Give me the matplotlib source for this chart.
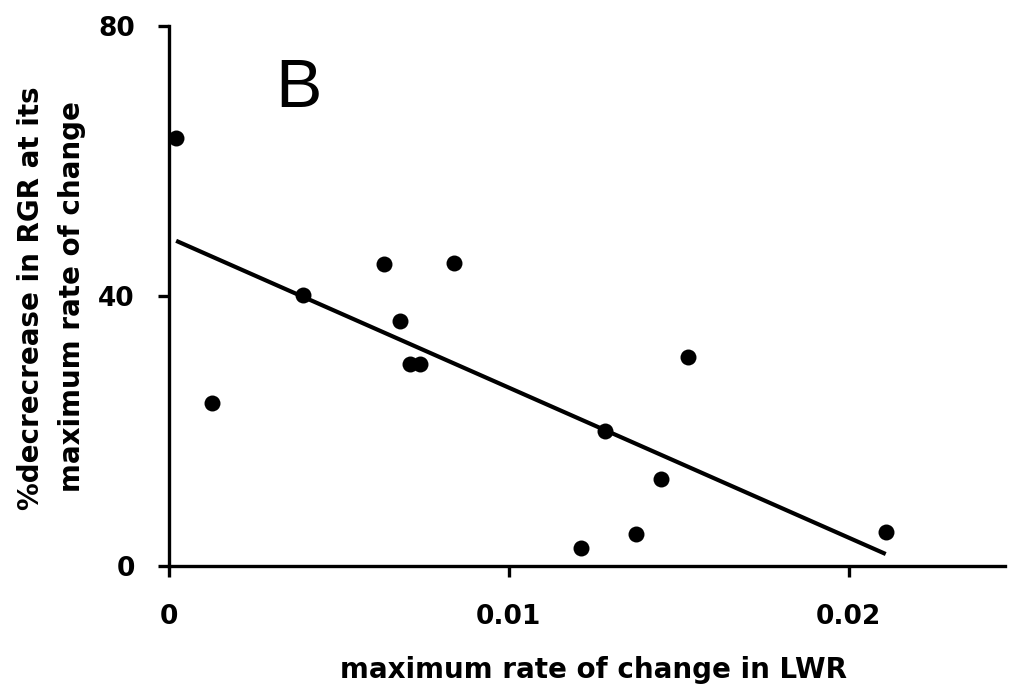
import numpy as np
import matplotlib
matplotlib.use("Agg")
import matplotlib.pyplot as plt

plt.rcParams['font.family'] = ['DejaVu Sans']

# maximum rate of change in LWR vs % decrease in RGR
lwr_rate = [0.00021, 0.00127, 0.00394, 0.00634, 0.0068, 0.0071, 0.0074,
            0.0084, 0.01211, 0.01282, 0.01375, 0.01449, 0.01528, 0.02109]
rgr_decrease = [63.4, 24.1, 40.1, 44.7, 36.3, 30.0, 30.0,
                44.9, 2.6, 20.0, 4.8, 12.9, 31.0, 5.1]

x_ticks = [0, 0.01, 0.02]
x_tick_labels = ["0", "0.01", "0.02"]
y_ticks = [0, 40, 80]
y_tick_labels = ["0", "40", "80"]

x = np.array(lwr_rate)
y = np.array(rgr_decrease)

W, H = 1009, 690
fig = plt.figure(figsize=(W / 100, H / 100), dpi=100)
ax = fig.add_axes([169 / W, 1 - 566 / H, (1005 - 169) / W, (566 - 26) / H])

ax.scatter(x, y, s=11.5 ** 2, color='black', zorder=3, linewidths=0)

# least-squares regression line over the data range
slope, intercept = np.polyfit(x, y, 1)
xf = np.array([x.min(), x.max()])
ax.plot(xf, slope * xf + intercept, color='black', lw=3, solid_capstyle='butt', zorder=2)

ax.set_xlim(0, 0.0246)
ax.set_ylim(0, 80)
ax.set_xticks(x_ticks)
ax.set_xticklabels(x_tick_labels, fontweight='bold')
ax.set_yticks(y_ticks)
ax.set_yticklabels(y_tick_labels, fontweight='bold')

for side in ('top', 'right'):
    ax.spines[side].set_visible(False)
for side in ('left', 'bottom'):
    ax.spines[side].set_linewidth(2.4)
    ax.spines[side].set_color('black')

ax.tick_params(axis='both', direction='out', length=8, width=2.4, colors='black',
               labelsize=19)
ax.tick_params(axis='x', pad=19.5)
ax.tick_params(axis='y', pad=16.5)

# axis titles
fig.text(593 / W, (H - 678) / H, "maximum rate of change in LWR",
         fontsize=20, fontweight='bold', ha='center', va='baseline')
fig.text(39 / W, (H - 298) / H, "%decrecrease in RGR at its",
         fontsize=20, fontweight='bold', rotation=90, rotation_mode='anchor',
         ha='center', va='baseline')
fig.text(80 / W, (H - 297) / H, "maximum rate of change",
         fontsize=20, fontweight='bold', rotation=90, rotation_mode='anchor',
         ha='center', va='baseline')

# panel letter
ax.text(275, H - 107, "B", transform=None, fontsize=50, ha='left', va='baseline',
        family=['Liberation Sans', 'DejaVu Sans'])

fig.savefig("out.png", dpi=100)
